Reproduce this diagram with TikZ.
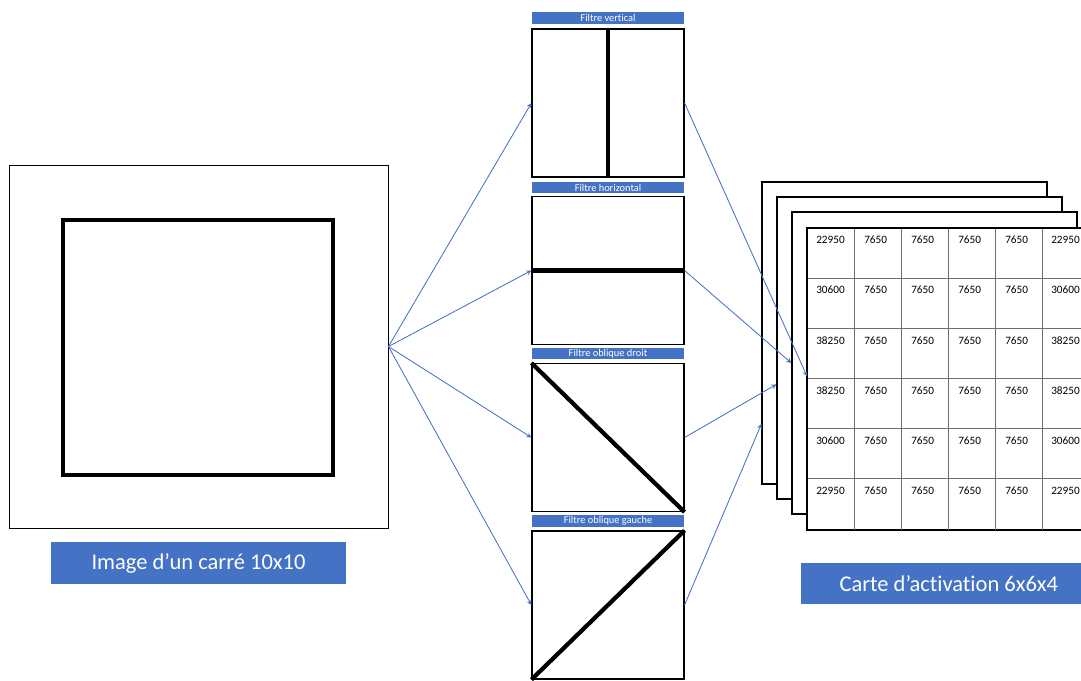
\documentclass[tikz,border=0pt]{standalone}
\usepackage{fontspec}
\setmainfont{Carlito}[Ligatures = NoCommon]
\usetikzlibrary{calc, positioning}
\usepackage{xcolor}
\definecolor{OfficeBlue}{HTML}{4472C4}
\definecolor{GridLine}{HTML}{6E6E6E}

\tikzset{
	filterbox/.style = {draw, line width = 0.8pt, minimum width = 3.8cm, minimum height = 3.7cm, inner sep = 0pt},
	filterlabel/.style = {fill = OfficeBlue, text = white, minimum width = 3.8cm, minimum height = 0.29cm, inner sep = 0pt, font = \fontsize{7.4}{8}\selectfont},
	biglabel/.style = {fill = OfficeBlue, text = white, minimum width = 7.375cm, inner sep = 0pt, font = \fontsize{16}{19}\selectfont},
	card/.style = {draw, fill = white, line width = 0.8pt, minimum width = 7.125cm, minimum height = 7.55cm, inner sep = 0pt},
	cell/.style = {anchor = west, inner sep = 0pt, font = \fontsize{8}{9}\selectfont},
	link/.style = {OfficeBlue, line width = 0.6pt, -stealth},
}

\begin{document}
\begin{tikzpicture}[x = 0.025cm, y = -0.025cm]
	\clip (0, 0) rectangle (1081, 680);
	\node[draw, line width = 0.6pt, minimum width = 9.475cm, minimum height = 9.075cm, inner sep = 0pt] (img) at (198.5, 346.5) {};
	\draw[line width = 2.6pt] (63, 220) rectangle (333, 475);
	\node[biglabel, minimum height = 1.05cm] (imglabel) at (198.5, 563) {Image d’un carré 10x10};

	\node[filterbox] (fv) at (608, 103) {};
	\node[filterbox] (fh) at (608, 270.5) {};
	\node[filterbox] (fd) at (608, 437.5) {};
	\node[filterbox] (fg) at (608, 605) {};
	\node[filterlabel, above = 0.11cm of fv] (fvlabel) {Filtre vertical};
	\node[filterlabel, above = 0.06cm of fh] (fhlabel) {Filtre horizontal};
	\node[filterlabel, above = 0.08cm of fd] (fdlabel) {Filtre oblique droit};
	\node[filterlabel, above = 0.09cm of fg] (fglabel) {Filtre oblique gauche};
	\draw[line width = 3pt] (fv.north) -- (fv.south);
	\draw[line width = 3pt] (fh.west) -- (fh.east);
	\draw[line width = 3pt] (fd.north west) -- (fd.south east);
	\draw[line width = 3pt] (fg.south west) -- (fg.north east);

	\node[card] (c1) at (904.5, 333) {};
	\node[card] (c2) at (919.5, 348) {};
	\node[card] (c3) at (934.5, 363) {};
	\node[draw, fill = white, line width = 1pt, minimum width = 7.1cm, minimum height = 7.525cm, inner sep = 0pt, anchor = north west] (grid) at (807, 228) {};
	\def\cw{47}
	\def\rh{50.17}
	\foreach \j in {1, ..., 6} {
			\draw[GridLine, line width = 0.6pt] ($(grid.north west) + (\j*\cw, 0)$) -- ($(grid.south west) + (\j*\cw, 0)$);
		}
	\foreach \i in {1, ..., 5} {
			\draw[GridLine, line width = 0.6pt] ($(grid.north west) + (0, \i*\rh)$) -- ($(grid.north east) + (0, \i*\rh)$);
		}
	\draw[line width = 1pt] (grid.north east) -- (grid.north west) -- (grid.south west) -- (grid.south east);
	\foreach \v [count = \i from 0] in {22950, 30600, 38250, 38250, 30600, 22950} {
			\node[cell] (v-\i-0) at ($(grid.north west) + (9, {\i*\rh + 12})$) {\v};
			\foreach \j in {1, ..., 4} {
					\node[cell] (v-\i-\j) at ($(grid.north west) + ({\j*\cw + 10}, {\i*\rh + 12})$) {7650};
				}
			\node[cell] (v-\i-5) at ($(grid.north west) + ({5*\cw + 9}, {\i*\rh + 12})$) {\v};
		}
	\node[biglabel, minimum height = 1.025cm, anchor = north west] (maplabel) at (801, 563) {Carte d’activation 6x6x4};

	\draw[link] (img.east) -- (fv.west);
	\draw[link] (img.east) -- (fh.west);
	\draw[link] (img.east) -- (fd.west);
	\draw[link] (img.east) -- (fg.west);
	\draw[link] (fv.east) -- ($(grid.north west)!0.49!(grid.south west)$);
	\draw[link] (fh.east) -- (c3.west);
	\draw[link] (fd.east) -- ($(c2.north west)!0.62!(c2.south west)$);
	\draw[link] (fg.east) -- ($(c1.north west)!0.80!(c1.south west)$);
\end{tikzpicture}
\end{document}
